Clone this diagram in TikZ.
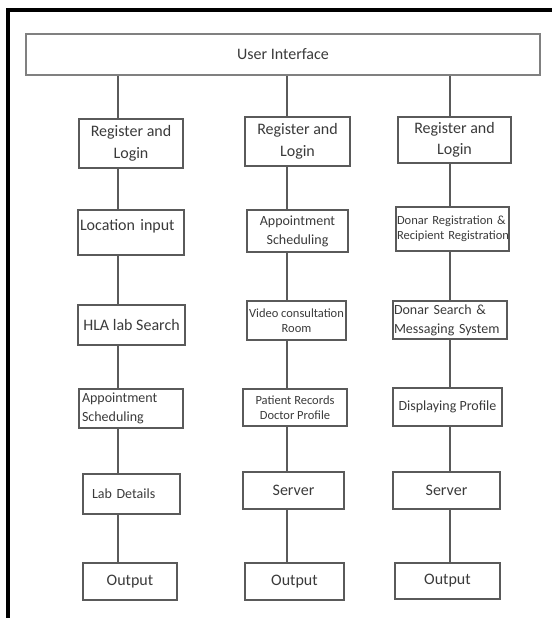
\documentclass[tikz,border=0pt]{standalone}
\usepackage{fontspec}
\setmainfont{Carlito}
\usetikzlibrary{shapes,arrows,calc}
\definecolor{boxgray}{HTML}{5A5A5A}
\definecolor{textgray}{HTML}{3A3A3A}
\tikzstyle{link} = [draw=boxgray, line width=1.3pt]
\tikzstyle{block} = [draw=boxgray, rectangle, line width=1.3pt, text=textgray, align=center, inner sep=2pt, font=\fontsize{16}{21.5}\selectfont]
\tikzstyle{midtext} = [font=\fontsize{14}{19}\selectfont]
\tikzstyle{smalltext} = [font=\fontsize{12.5}{15}\selectfont]
\tikzstyle{frame} = [draw=black, line width=4pt]

\begin{document}
\begin{tikzpicture}[x=1pt, y=-1pt, node distance=88pt]
        \useasboundingbox (0,0) rectangle (552,618);
        \path[frame] (8,618) -- (8,10) -- (552,10);
        \node[block, draw=gray, line width=1.5pt, minimum width=514pt, minimum height=41pt] (ui) at (283,54.5) {User Interface};
        % first column
        \node[block, minimum width=104pt, minimum height=49pt] (reg1) at (131,143.5) {Register and\\Login};
        \node[block, below of=reg1, node distance=89pt, text width=102pt, minimum height=45pt, align=left, text depth=15pt] (loc1) {Location input};
        \node[block, below of=loc1, node distance=92.5pt, minimum width=107pt, minimum height=40pt, xshift=0.5pt] (hla1) {HLA lab Search};
        \node[block, midtext, below of=hla1, node distance=83.5pt, text width=98pt, inner xsep=3pt, minimum height=39pt, align=left, xshift=-0.5pt] (apt1) {Appointment\\Scheduling};
        \node[block, midtext, below of=apt1, node distance=85.5pt, text width=79pt, inner xsep=9pt, minimum height=40pt, align=left, xshift=0.5pt] (lab1) {Lab Details};
        \node[block, below of=lab1, node distance=87.5pt, minimum width=94pt, minimum height=37pt, xshift=-1.5pt] (out1) {Output};
        % second column
        \node[block, minimum width=105pt, minimum height=49pt] (reg2) at (297.5,141.5) {Register and\\Login};
        \node[block, midtext, below of=reg2, node distance=89.5pt, minimum width=101pt, minimum height=42pt] (apt2) {Appointment\\Scheduling};
        \node[block, smalltext, below of=apt2, node distance=89.5pt, minimum width=99pt, minimum height=39pt, xshift=-1pt] (vid2) {Video consultation\\Room};
        \node[block, smalltext, below of=vid2, node distance=87pt, minimum width=104pt, minimum height=37pt, xshift=-1.5pt] (pat2) {Patient Records\\Doctor Profile};
        \node[block, below of=pat2, node distance=83pt, minimum width=101pt, minimum height=37pt, xshift=-1.5pt] (srv2) {Server};
        \node[block, below of=srv2, node distance=91pt, minimum width=99pt, minimum height=37pt, xshift=1pt] (out2) {Output};
        % third column
        \node[block, minimum width=113pt, minimum height=46pt] (reg3) at (454.5,140) {Register and\\Login};
        \node[block, smalltext, below of=reg3, node distance=89pt, text width=111pt, inner xsep=1pt, minimum height=44pt, align=left, xshift=-2pt] (don3) {\mbox{Donar Registration \&}\\\mbox{Recipient Registration}};
        \node[block, midtext, below of=don3, node distance=91pt, text width=112pt, inner xsep=1pt, minimum height=38pt, align=left, xshift=-2.5pt] (srch3) {\mbox{Donar Search \&}\\\mbox{Messaging System}};
        \node[block, midtext, below of=srch3, node distance=87pt, minimum width=109pt, minimum height=38pt, xshift=-2.5pt] (disp3) {Displaying Profile};
        \node[block, below of=disp3, node distance=83.5pt, minimum width=107pt, minimum height=37pt, xshift=-1pt] (srv3) {Server};
        \node[block, below of=srv3, node distance=90.5pt, minimum width=105pt, minimum height=36pt, xshift=1pt] (out3) {Output};
        % lanes for the vertical links
        \coordinate (lane1) at (118,0);
        \coordinate (lane2) at (287,0);
        \coordinate (lane3) at (450,0);
        \path[link] (ui.south -| lane1) -- (reg1.north -| lane1);
        \path[link] (reg1.south -| lane1) -- (loc1.north -| lane1);
        \path[link] (loc1.south -| lane1) -- (hla1.north -| lane1);
        \path[link] (hla1.south -| lane1) -- (apt1.north -| lane1);
        \path[link] (apt1.south -| lane1) -- (lab1.north -| lane1);
        \path[link] (lab1.south -| lane1) -- (out1.north -| lane1);
        \path[link] (ui.south -| lane2) -- (reg2.north -| lane2);
        \path[link] (reg2.south -| lane2) -- (apt2.north -| lane2);
        \path[link] (apt2.south -| lane2) -- (vid2.north -| lane2);
        \path[link] (vid2.south -| lane2) -- (pat2.north -| lane2);
        \path[link] (pat2.south -| lane2) -- (srv2.north -| lane2);
        \path[link] (srv2.south -| lane2) -- (out2.north -| lane2);
        \path[link] (ui.south -| lane3) -- (reg3.north -| lane3);
        \path[link] (reg3.south -| lane3) -- (don3.north -| lane3);
        \path[link] (don3.south -| lane3) -- (srch3.north -| lane3);
        \path[link] (srch3.south -| lane3) -- (disp3.north -| lane3);
        \path[link] (disp3.south -| lane3) -- (srv3.north -| lane3);
        \path[link] (srv3.south -| lane3) -- (out3.north -| lane3);
    \end{tikzpicture}
\end{document}
